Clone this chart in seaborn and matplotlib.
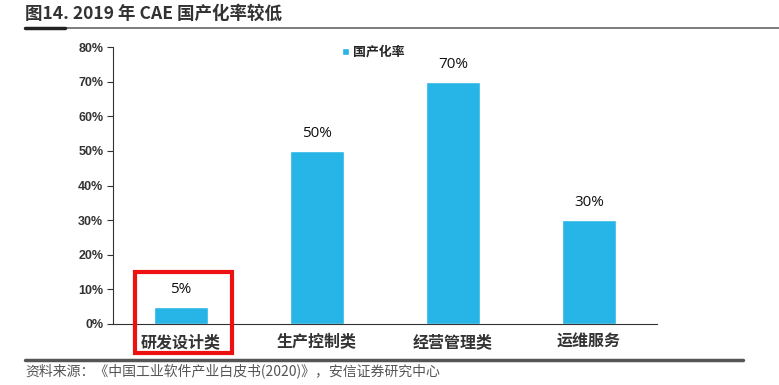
import seaborn as sns
import matplotlib.pyplot as plt
import pandas as pd
from matplotlib.lines import Line2D
from matplotlib.patches import Rectangle
from matplotlib.ticker import FixedLocator

# data
categories = ['研发设计类', '生产控制类', '经营管理类', '运维服务']
rates = [5, 50, 70, 30]  # 国产化率 (%)
yticks = [0, 10, 20, 30, 40, 50, 60, 70, 80]

title = '图14. 2019 年 CAE 国产化率较低'
source = '资料来源：《中国工业软件产业白皮书(2020)》，安信证券研究中心'

sns.set_style('white')
plt.rcParams['font.family'] = ['Noto Sans CJK SC', 'DejaVu Sans']

bar_color = '#27b5e7'
dark = '#333333'

df = pd.DataFrame({'cat': categories, 'rate': rates})

fig = plt.figure(figsize=(7.79, 3.85), dpi=100)
ax = fig.add_axes([113 / 779, 1 - 324 / 385, (657 - 113) / 779, (324 - 47) / 385])

sns.barplot(data=df, x='cat', y='rate', color=bar_color, width=0.4,
            saturation=1, label='国产化率', ax=ax)

ax.set_xlim(-0.5, 3.5)
ax.set_ylim(0, 80)
ax.set_yticks(yticks)
ax.set_yticklabels([f'{v}%' for v in yticks], family=['Liberation Sans'],
                   fontweight='bold', fontsize=9, color=dark)
ax.set_xlabel('')
ax.set_ylabel('')
ax.tick_params(axis='x', which='major', length=0, pad=7, labelsize=11.5)
for lab in ax.get_xticklabels():
    lab.set_fontweight('bold')
    lab.set_color(dark)
# ticks between categories
ax.xaxis.set_minor_locator(FixedLocator([-0.5, 0.5, 1.5, 2.5, 3.5]))
ax.tick_params(axis='x', which='minor', length=4, width=0.8, color=dark, direction='out')
ax.tick_params(axis='y', length=4, width=0.8, color=dark, direction='out', left=True, pad=3)
sns.despine(ax=ax)
for s in ['left', 'bottom']:
    ax.spines[s].set_color(dark)
    ax.spines[s].set_linewidth(0.8)

ax.bar_label(ax.containers[0], labels=[f'{v}%' for v in rates], padding=7,
             fontsize=11, color='#111111', family=['Open Sans', 'DejaVu Sans'])

ax.legend(loc='center left', bbox_to_anchor=(0.4, 0.982), frameon=False,
          handlelength=0.55, handleheight=0.55, handletextpad=0.25,
          prop={'size': 9.3, 'weight': 'bold'})

# red highlight box
fig.add_artist(Rectangle((135 / 779, 1 - 353 / 385), (232 - 135) / 779, (353 - 272) / 385,
                         transform=fig.transFigure, fill=False, edgecolor='#ee1111', linewidth=3))

# title and rules
fig.text(25 / 779, 1 - 14 / 385, title, fontsize=12.6, fontweight='bold', color='#333333', va='center')
fig.add_artist(Line2D([25 / 779, 1], [1 - 28 / 385] * 2, color='#666666', linewidth=1.2))
fig.add_artist(Line2D([25 / 779, 65 / 779], [1 - 28 / 385] * 2, color='#222222', linewidth=2.5))
fig.add_artist(Line2D([25 / 779, 743 / 779], [1 - 360 / 385] * 2, color='#555555', linewidth=2.5))

fig.text(25 / 779, 1 - 371 / 385, source, fontsize=10, color='#555555', va='center')

fig.savefig('out.png', dpi=100)
